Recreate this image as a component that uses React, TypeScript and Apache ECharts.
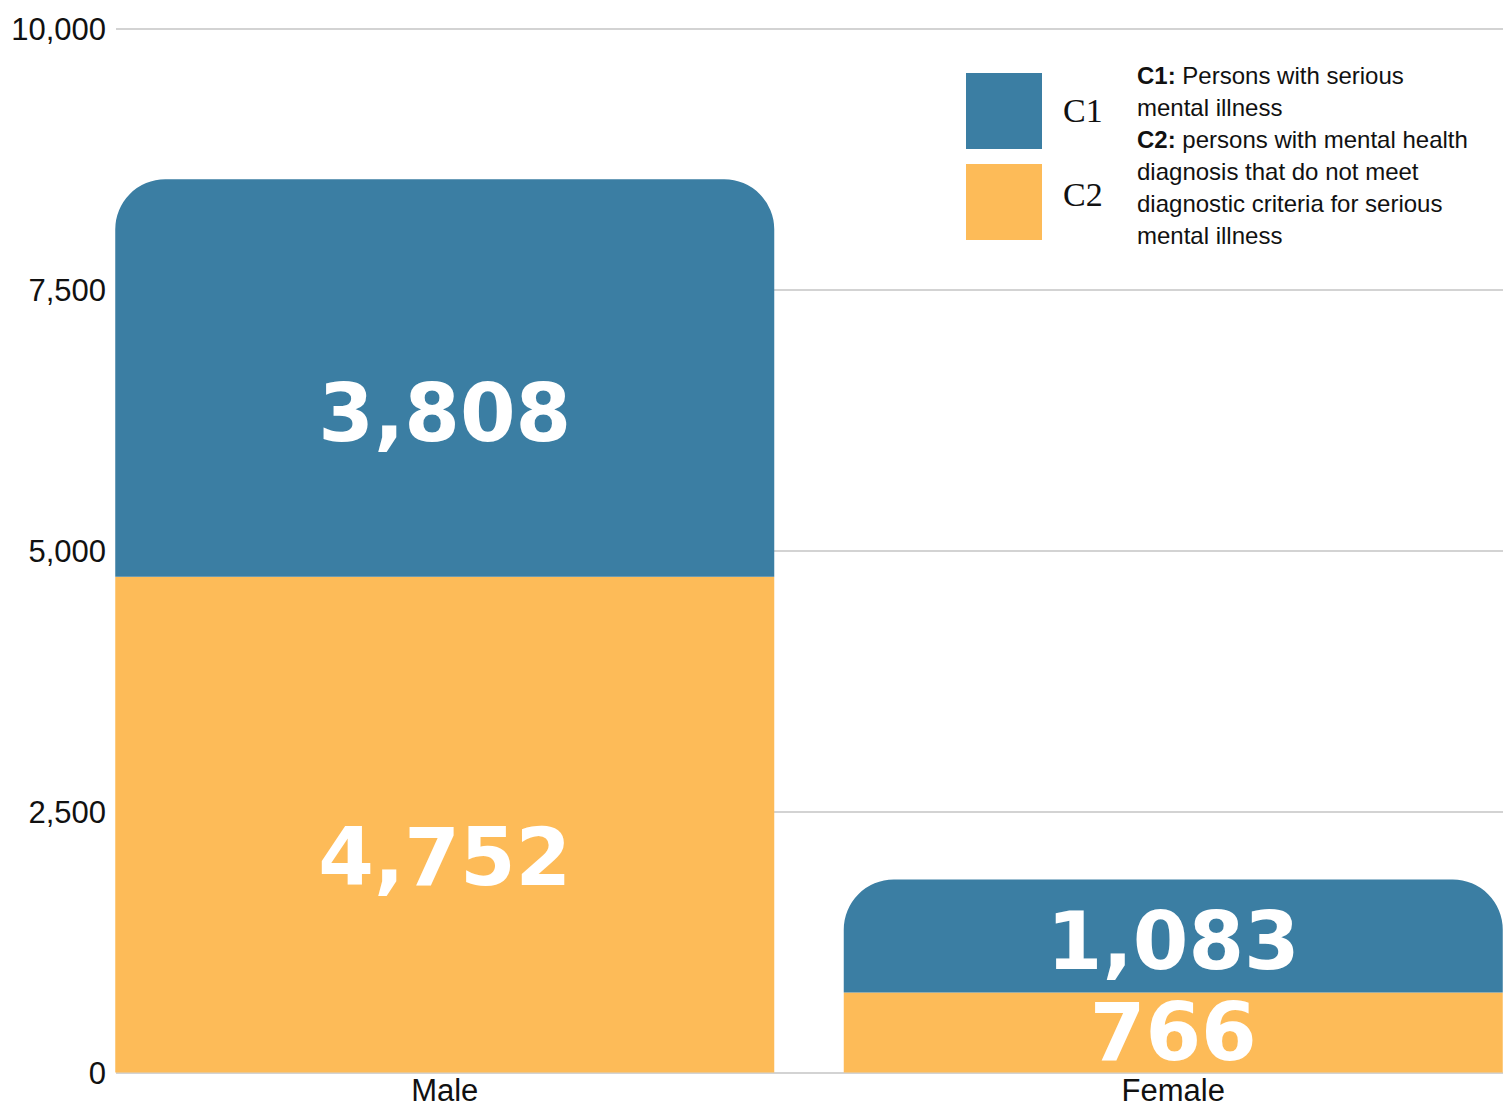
import React, { useEffect, useRef } from "react";
import * as echarts from "echarts";

const categories = ["Male", "Female"];
const c1Values = [3808, 1083];
const c2Values = [4752, 766];
const yTicks = [0, 2500, 5000, 7500, 10000];
const c1Offsets = [36, 5];
const c2Offsets = [33, 0];

const BLUE = "#3b7ea3";
const ORANGE = "#fdbb58";

const fmt = (v: number) => v.toLocaleString("en-US");

export default function App() {
  const ref = useRef<HTMLDivElement>(null);
  useEffect(() => {
    if (!ref.current) return;
    const chart = echarts.init(ref.current, null, { renderer: "svg" });
    const labelBase = {
      show: true,
      position: "inside",
      color: "#ffffff",
      fontFamily: "DejaVu Sans",
      fontWeight: "bold",
      fontSize: 80,
      lineHeight: 60,
      formatter: (p: any) => fmt(p.value),
    };
    const textFont = "Liberation Sans, Arial, sans-serif";
    chart.setOption({
      animation: false,
      backgroundColor: "#ffffff",
      grid: [
        { left: 116, top: 29, width: 1387, height: 1044 },
        { left: 80.5, top: 29, width: 1457, height: 1044 },
      ],
      xAxis: [
        { type: "category", gridIndex: 0, data: categories, show: false },
        {
          type: "category",
          gridIndex: 1,
          data: categories,
          axisLine: { show: false },
          axisTick: { show: false },
          axisLabel: {
            fontSize: 31,
            lineHeight: 26,
            color: "#111",
            fontFamily: textFont,
            margin: 5,
          },
        },
      ],
      yAxis: [
        {
          type: "value",
          gridIndex: 0,
          min: yTicks[0],
          max: yTicks[yTicks.length - 1],
          interval: 2500,
          axisLine: { show: false },
          axisTick: { show: false },
          axisLabel: {
            fontSize: 31,
            color: "#111",
            fontFamily: textFont,
            margin: 10,
            formatter: (v: number) => fmt(v),
          },
          splitLine: { lineStyle: { color: "#d3d3d3", width: 2 } },
        },
        {
          type: "value",
          gridIndex: 1,
          min: yTicks[0],
          max: yTicks[yTicks.length - 1],
          interval: 2500,
          show: false,
          splitLine: { show: false },
        },
      ],
      series: [
        {
          name: "C2",
          type: "bar",
          stack: "total",
          xAxisIndex: 1,
          yAxisIndex: 1,
          barWidth: 659,
          itemStyle: { color: ORANGE },
          label: labelBase,
          data: c2Values.map((v, i) => ({ value: v, label: { offset: [0, c2Offsets[i]] } })),
        },
        {
          name: "C1",
          type: "bar",
          stack: "total",
          xAxisIndex: 1,
          yAxisIndex: 1,
          barWidth: 659,
          itemStyle: { color: BLUE, borderRadius: [50, 50, 0, 0] },
          label: labelBase,
          data: c1Values.map((v, i) => ({ value: v, label: { offset: [0, c1Offsets[i]] } })),
        },
      ],
      graphic: [
        { type: "rect", shape: { x: 966, y: 73, width: 76, height: 76 }, style: { fill: BLUE } },
        { type: "rect", shape: { x: 966, y: 164, width: 76, height: 76 }, style: { fill: ORANGE } },
        {
          type: "text",
          x: 1063,
          y: 110,
          style: {
            text: "C1",
            fill: "#111",
            font: "34px 'Liberation Serif', 'Times New Roman', serif",
            textVerticalAlign: "middle",
          },
        },
        {
          type: "text",
          x: 1063,
          y: 194,
          style: {
            text: "C2",
            fill: "#111",
            font: "34px 'Liberation Serif', 'Times New Roman', serif",
            textVerticalAlign: "middle",
          },
        },
        {
          type: "text",
          x: 1137,
          y: 59,
          style: {
            text:
              "{b|C1:} Persons with serious\nmental illness\n{b|C2:} persons with mental health\ndiagnosis that do not meet\ndiagnostic criteria for serious\nmental illness",
            fill: "#111",
            fontSize: 24,
            fontFamily: textFont,
            lineHeight: 32,
            textVerticalAlign: "top",
            rich: {
              b: { fontWeight: "bold", fontSize: 24, fontFamily: textFont, lineHeight: 32, fill: "#111" },
            },
          },
        },
      ],
    });
    return () => chart.dispose();
  }, []);
  return (
    <div
      style={{
        position: "fixed",
        left: 0,
        top: 0,
        width: 1511,
        height: 1106,
        overflow: "hidden",
        background: "#fff",
      }}
    >
      <div ref={ref} style={{ width: 1560, height: 1106 }} />
    </div>
  );
}
